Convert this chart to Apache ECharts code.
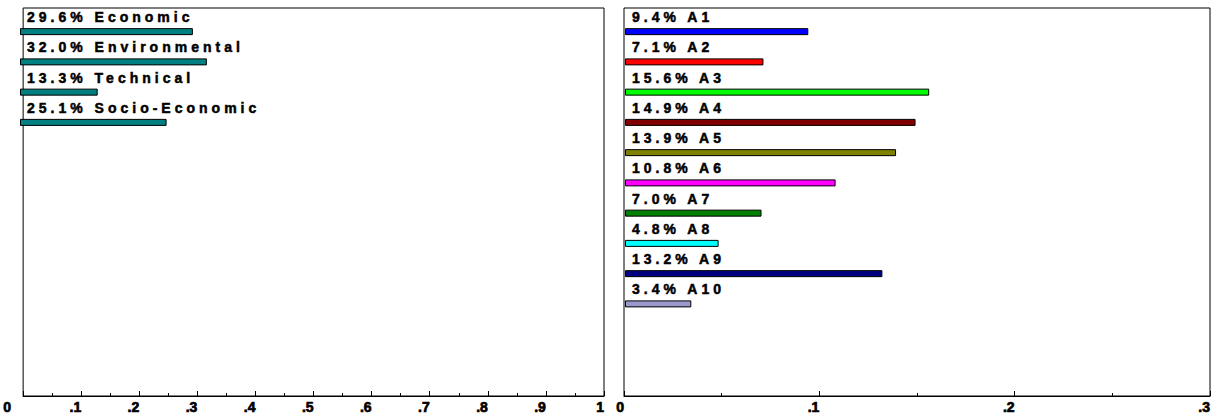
<!DOCTYPE html>
<html>
<head>
<meta charset="utf-8">
<script src="https://cdn.jsdelivr.net/npm/echarts@6/dist/echarts.min.js"></script>
<style>
html,body{margin:0;padding:0;background:#fff;}
#chart{width:1222px;height:417px;}
</style>
</head>
<body>
<div id="chart"></div>
<script>
const critNames = ['Economic', 'Environmental', 'Technical', 'Socio-Economic'];
const critValues = [0.296, 0.320, 0.133, 0.251];
const critColors = ['#008080', '#008080', '#008080', '#008080'];

const altNames = ['A1', 'A2', 'A3', 'A4', 'A5', 'A6', 'A7', 'A8', 'A9', 'A10'];
const altValues = [0.094, 0.071, 0.156, 0.149, 0.139, 0.108, 0.070, 0.048, 0.132, 0.034];
const altColors = ['#0000ff', '#ff0000', '#00ff00', '#800000', '#808000', '#ff00ff', '#008000', '#00ffff', '#000080', '#9999cc'];

const leftMax = 1, rightMax = 0.3;
const FONT = 'Liberation Sans, Arial, sans-serif';

function tickText(v) {
  const n = Number(v.toFixed(2));
  if (n === 0) return '0';
  if (n === 1) return '1';
  return String(n).replace(/^0/, '');
}
function tickFmtLeft(v) {
  const t = tickText(v);
  return t === '0' ? '{z|0}' : t;
}

const chart = echarts.init(document.getElementById('chart'), null, {renderer: 'svg'});

const tickStyle = {color: '#000', fontFamily: FONT, fontWeight: 'bold', fontSize: 14, textBorderColor: '#000', textBorderWidth: 0.7};

function frameX(gi, max, fmt) {
  return {
    gridIndex: gi, type: 'value', min: 0, max: max, interval: 0.1,
    axisLine: {show: true, lineStyle: {color: '#000', width: 1}},
    axisTick: {show: true, inside: true, length: 5, lineStyle: {color: '#000'}},
    minorTick: {show: true, splitNumber: 2, length: 3, lineStyle: {color: '#000'}},
    splitLine: {show: false},
    axisLabel: Object.assign({
      show: true, align: 'right', margin: 4, formatter: fmt,
      rich: {z: Object.assign({padding: [0, 12, 0, 0]}, tickStyle)}
    }, tickStyle)
  };
}
function hiddenX(gi, max) {
  return {gridIndex: gi, type: 'value', min: 0, max: max, show: false, splitLine: {show: false}};
}
function frameY(gi) {
  return {gridIndex: gi, type: 'value', show: false, splitLine: {show: false}};
}
function barY(gi, names) {
  return {gridIndex: gi, type: 'category', data: names, inverse: true, show: false};
}
function barSeries(xi, yi, names, values, colors) {
  return {
    type: 'bar', xAxisIndex: xi, yAxisIndex: yi, barWidth: 7,
    data: values.map((v, i) => ({value: v, itemStyle: {color: colors[i]}})),
    itemStyle: {borderColor: '#000', borderWidth: 1},
    label: {
      show: true, position: [7, -18], color: '#000', fontFamily: FONT,
      fontWeight: 'bold', fontSize: 14, textBorderColor: '#000', textBorderWidth: 0.5,
      formatter: p => (p.value * 100).toFixed(1) + '% ' + names[p.dataIndex]
    },
    silent: true
  };
}

const SLOT = 30.25;
chart.setOption({
  animation: false,
  grid: [
    {left: 19, right: 1222 - 604, top: 8, bottom: 21, show: true, borderColor: '#000', borderWidth: 1},
    {left: 624, right: 12, top: 8, bottom: 21, show: true, borderColor: '#000', borderWidth: 1},
    {left: 20, right: 1222 - 604, top: 16.5, height: SLOT * critNames.length},
    {left: 625, right: 12, top: 16.5, height: SLOT * altNames.length}
  ],
  xAxis: [frameX(0, leftMax, tickFmtLeft), frameX(1, rightMax, tickText), hiddenX(2, leftMax), hiddenX(3, rightMax)],
  yAxis: [frameY(0), frameY(1), barY(2, critNames), barY(3, altNames)],
  series: [
    barSeries(2, 2, critNames, critValues, critColors),
    barSeries(3, 3, altNames, altValues, altColors)
  ]
});

function spaceLabels() {
  document.querySelectorAll('#chart text').forEach(t => {
    if (t.textContent.indexOf('%') >= 0) t.style.letterSpacing = '4px';
  });
}
chart.on('finished', spaceLabels);
spaceLabels();
</script>
</body>
</html>
